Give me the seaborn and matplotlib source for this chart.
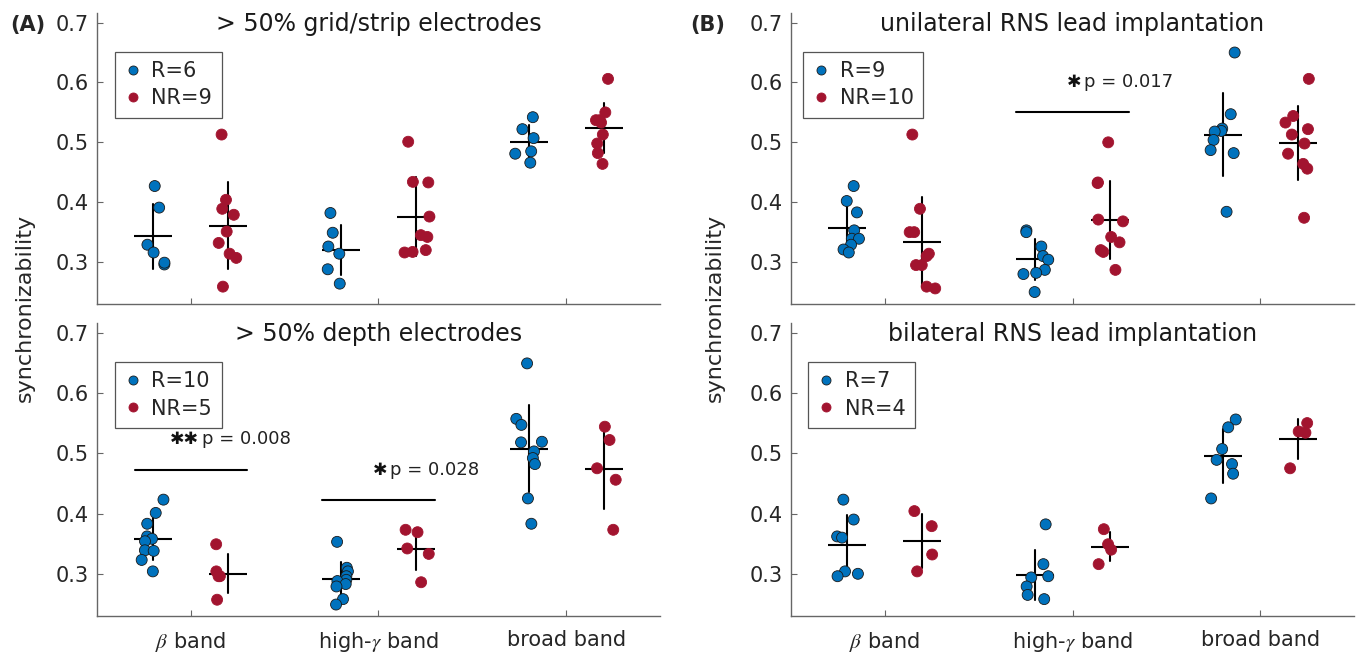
import numpy as np
import pandas as pd
import matplotlib
matplotlib.use('Agg')
import matplotlib.pyplot as plt
from matplotlib.lines import Line2D
import seaborn as sns

# --- datos (synchronizability por paciente) ---
band_keys = ['beta', 'hg', 'broad']
band_labels = [r'$\beta$ band', r'high-$\gamma$ band', 'broad band']

# (A) arriba: > 50% grid/strip
gs_beta_R = [0.427, 0.391, 0.329, 0.316, 0.296, 0.299]
gs_beta_NR = [0.513, 0.404, 0.389, 0.379, 0.351, 0.332, 0.314, 0.307, 0.259]
gs_hg_R = [0.382, 0.349, 0.326, 0.314, 0.288, 0.264]
gs_hg_NR = [0.501, 0.434, 0.433, 0.376, 0.345, 0.342, 0.320, 0.317, 0.316]
gs_bb_R = [0.542, 0.522, 0.507, 0.485, 0.481, 0.466]
gs_bb_NR = [0.606, 0.550, 0.537, 0.537, 0.533, 0.513, 0.498, 0.482, 0.464]

# (A) abajo: > 50% depth
dp_beta_R = [0.423, 0.401, 0.383, 0.362, 0.358, 0.354, 0.339, 0.338, 0.323, 0.304]
dp_beta_NR = [0.349, 0.304, 0.296, 0.296, 0.257]
dp_hg_R = [0.353, 0.310, 0.304, 0.296, 0.290, 0.288, 0.283, 0.279, 0.258, 0.249]
dp_hg_NR = [0.373, 0.369, 0.342, 0.333, 0.286]
dp_bb_R = [0.649, 0.557, 0.547, 0.519, 0.518, 0.503, 0.492, 0.482, 0.425, 0.383]
dp_bb_NR = [0.544, 0.522, 0.475, 0.456, 0.373]

# (B) arriba: unilateral
uni_beta_R = [0.427, 0.402, 0.383, 0.353, 0.339, 0.339, 0.329, 0.321, 0.316]
uni_beta_NR = [0.513, 0.389, 0.350, 0.350, 0.314, 0.310, 0.295, 0.295, 0.259, 0.256]
uni_hg_R = [0.353, 0.350, 0.326, 0.310, 0.304, 0.287, 0.282, 0.280, 0.250]
uni_hg_NR = [0.500, 0.433, 0.432, 0.371, 0.368, 0.342, 0.333, 0.320, 0.317, 0.287]
uni_bb_R = [0.650, 0.547, 0.523, 0.519, 0.518, 0.504, 0.487, 0.482, 0.384]
uni_bb_NR = [0.606, 0.544, 0.533, 0.522, 0.513, 0.498, 0.481, 0.464, 0.456, 0.374]

# (B) abajo: bilateral
bi_beta_R = [0.423, 0.390, 0.362, 0.360, 0.304, 0.300, 0.296]
bi_beta_NR = [0.404, 0.379, 0.332, 0.304]
bi_hg_R = [0.382, 0.316, 0.296, 0.294, 0.279, 0.265, 0.258]
bi_hg_NR = [0.374, 0.349, 0.340, 0.316]
bi_bb_R = [0.556, 0.543, 0.507, 0.489, 0.482, 0.466, 0.425]
bi_bb_NR = [0.550, 0.536, 0.534, 0.475]

titles = ['> 50% grid/strip electrodes', '> 50% depth electrodes',
          'unilateral RNS lead implantation', 'bilateral RNS lead implantation']

BLUE = '#0072BD'
RED = '#A2142F'
colors = {'R': BLUE, 'NR': RED}


def panel_frame(beta_r, beta_nr, hg_r, hg_nr, bb_r, bb_nr):
    rows = []
    for band, grp, vals in [('beta', 'R', beta_r), ('beta', 'NR', beta_nr),
                            ('hg', 'R', hg_r), ('hg', 'NR', hg_nr),
                            ('broad', 'R', bb_r), ('broad', 'NR', bb_nr)]:
        rows += [(band, grp, v) for v in vals]
    return pd.DataFrame(rows, columns=['band', 'group', 'sync'])


frames = [
    panel_frame(gs_beta_R, gs_beta_NR, gs_hg_R, gs_hg_NR, gs_bb_R, gs_bb_NR),
    panel_frame(dp_beta_R, dp_beta_NR, dp_hg_R, dp_hg_NR, dp_bb_R, dp_bb_NR),
    panel_frame(uni_beta_R, uni_beta_NR, uni_hg_R, uni_hg_NR, uni_bb_R, uni_bb_NR),
    panel_frame(bi_beta_R, bi_beta_NR, bi_hg_R, bi_hg_NR, bi_bb_R, bi_bb_NR),
]

# anotaciones de significancia: (banda, altura de la linea, asteriscos, texto)
sig_notes = [
    [],
    [(0, 0.473, '✱✱', 'p = 0.008'), (1, 0.422, '✱', 'p = 0.028')],
    [(1, 0.550, '✱', 'p = 0.017')],
    [],
]
legend_x = [0.032, 0.032, 0.022, 0.031]

sns.set_style('ticks')
plt.rcParams['font.family'] = ['DejaVu Sans']
plt.rcParams['mathtext.fontset'] = 'stix'
np.random.seed(3)

fig = plt.figure(figsize=(13.6, 6.56), dpi=100)
W, H = 1360, 656
boxes = [(97, 13, 563, 291), (97, 323, 563, 293), (791, 13, 563, 291), (791, 323, 563, 293)]
axes = [fig.add_axes([x / W, 1 - (y + h) / H, w / W, h / H]) for x, y, w, h in boxes]

for i, (ax, df) in enumerate(zip(axes, frames)):
    for grp, edge in [('R', '#1a1a1a'), ('NR', RED)]:
        sns.stripplot(data=df[df.group == grp], x='band', y='sync', hue='group',
                      order=band_keys, hue_order=['R', 'NR'], palette=colors,
                      dodge=True, jitter=0.15, size=7.9, linewidth=0.6,
                      edgecolor=edge, legend=False, ax=ax)
    sns.pointplot(data=df, x='band', y='sync', hue='group', order=band_keys,
                  hue_order=['R', 'NR'], palette={'R': 'k', 'NR': 'k'},
                  dodge=0.4, errorbar='sd', markers='_', linestyles='none',
                  markersize=27, markeredgewidth=1.5, err_kws={'linewidth': 1.5},
                  legend=False, ax=ax)

    for b, yl, stars, ptxt in sig_notes[i]:
        ax.plot([b - 0.3, b + 0.3], [yl, yl], color='k', lw=1.5)
        ax.text(b + 0.045, yl + 0.05, stars, ha='right', va='center', fontsize=12.5,
                fontweight='bold', color='#111111')
        ax.text(b + 0.06, yl + 0.05, ptxt, ha='left', va='center', fontsize=13,
                color='#222222')

    ax.set_xlim(-0.5, 2.5)
    ax.set_ylim(0.23, 0.716)
    ax.set_yticks([0.3, 0.4, 0.5, 0.6, 0.7])
    ax.set_yticklabels(['0.3', '0.4', '0.5', '0.6', '0.7'])
    ax.set_xticks([0, 1, 2])
    if i in (1, 3):
        ax.set_xticklabels(band_labels, fontsize=16)
    else:
        ax.set_xticklabels([])
    ax.set_xlabel('')
    ax.set_ylabel('')
    sns.despine(ax=ax)
    for s in ['left', 'bottom']:
        ax.spines[s].set_color('#666666')
        ax.spines[s].set_linewidth(1.0)
    ax.tick_params(direction='in', length=4, width=0.8, color='#666666',
                   labelcolor='#262626', labelsize=15, pad=6)
    ax.tick_params(axis='x', pad=10)
    ax.text(0.5, 0.962, titles[i], transform=ax.transAxes, ha='center',
            va='center', fontsize=17, color='#1a1a1a')

    n_r = (df.group == 'R').sum() // 3
    n_nr = (df.group == 'NR').sum() // 3
    handles = [Line2D([], [], ls='none', marker='o', ms=6.5, mfc=BLUE, mec='#1a1a1a', mew=0.6),
               Line2D([], [], ls='none', marker='o', ms=6.5, mfc=RED, mec=RED, mew=0.6)]
    leg = ax.legend(handles, [f'R={n_r}', f'NR={n_nr}'], loc='upper left',
                    bbox_to_anchor=(legend_x[i], 0.867), borderaxespad=0,
                    fontsize=15, frameon=True, fancybox=False, framealpha=1,
                    edgecolor='#555555', handlelength=0.8, handletextpad=0.5,
                    borderpad=0.45, labelspacing=0.35)
    leg.get_frame().set_linewidth(0.9)

fig.text(25 / W, 1 - 308 / H, 'synchronizability', rotation=90, ha='center',
         va='center', fontsize=16, color='#262626')
fig.text(715 / W, 1 - 308 / H, 'synchronizability', rotation=90, ha='center',
         va='center', fontsize=16, color='#262626')
fig.text(10 / W, 1 - 25 / H, '(A)', ha='left', va='center', fontsize=15,
         fontweight='bold')
fig.text(690 / W, 1 - 25 / H, '(B)', ha='left', va='center', fontsize=15,
         fontweight='bold')

fig.savefig('out.png', dpi=100)
